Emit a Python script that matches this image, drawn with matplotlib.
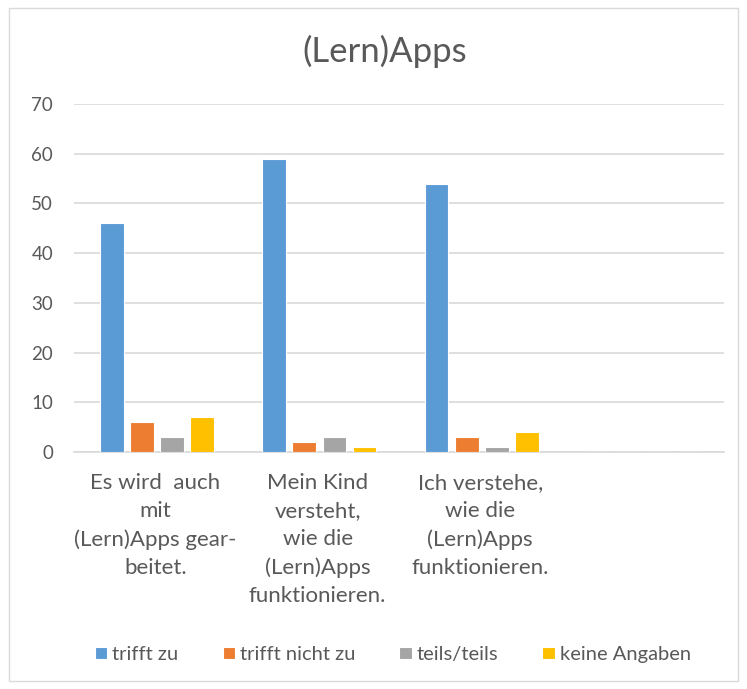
import numpy as np
import matplotlib.pyplot as plt
from matplotlib.patches import Rectangle

categories = ["Es wird  auch\nmit\n(Lern)Apps gear-\nbeitet.",
              "Mein Kind\nversteht,\nwie die\n(Lern)Apps\nfunktionieren.",
              "Ich verstehe,\nwie die\n(Lern)Apps\nfunktionieren.",
              ""]
series_names = ["trifft zu", "trifft nicht zu", "teils/teils", "keine Angaben"]
trifft_zu = [46, 59, 54, 0]
trifft_nicht_zu = [6, 2, 3, 0]
teils_teils = [3, 3, 1, 0]
keine_angaben = [7, 1, 4, 0]
colors = ["#5b9bd5", "#ed7d31", "#a5a5a5", "#ffc000"]

plt.rcParams['font.family'] = ['Lato', 'DejaVu Sans']
fig = plt.figure(figsize=(7.47, 6.89), dpi=100)
ax = fig.add_axes([0.099, 0.344, 0.87, 0.505])

x = np.arange(len(categories))
step = 0.185
width = 0.145
values = [trifft_zu, trifft_nicht_zu, teils_teils, keine_angaben]
for i, vals in enumerate(values):
    ax.bar(x + (i - 1.5) * step + 0.01, vals, width, color=colors[i], label=series_names[i],
           edgecolor="white", linewidth=0.8, zorder=3)

ax.set_xlim(-0.5, len(categories) - 0.5)
ax.set_ylim(0, 70)
ax.set_yticks(range(0, 71, 10))
ax.grid(axis="y", color="#d9d9d9", linewidth=1.2, zorder=0)
for s in ["top", "right", "left"]:
    ax.spines[s].set_visible(False)
ax.spines["bottom"].set_color("#d9d9d9")
ax.spines["bottom"].set_linewidth(1.2)
ax.tick_params(length=0, colors="#595959", labelsize=13.5)
ax.tick_params(axis="y", pad=15)
ax.set_xticks(x)
ax.set_xticklabels(categories, linespacing=1.5, color="#595959", fontsize=16)
ax.tick_params(axis="x", pad=15)

fig.text(0.515, 0.925, "(Lern)Apps", ha="center", va="center", fontsize=25, color="#595959")

fig.legend(loc="center", bbox_to_anchor=(0.526, 0.05), ncol=4, frameon=False,
           fontsize=14.5, handlelength=0.6, handleheight=0.6, handletextpad=0.25,
           columnspacing=2.2, labelcolor="#595959")

fig.patches.append(Rectangle((0.012, 0.012), 0.976, 0.976, transform=fig.transFigure,
                             fill=False, edgecolor="#d9d9d9", linewidth=1))

fig.savefig("out.png", dpi=100)
